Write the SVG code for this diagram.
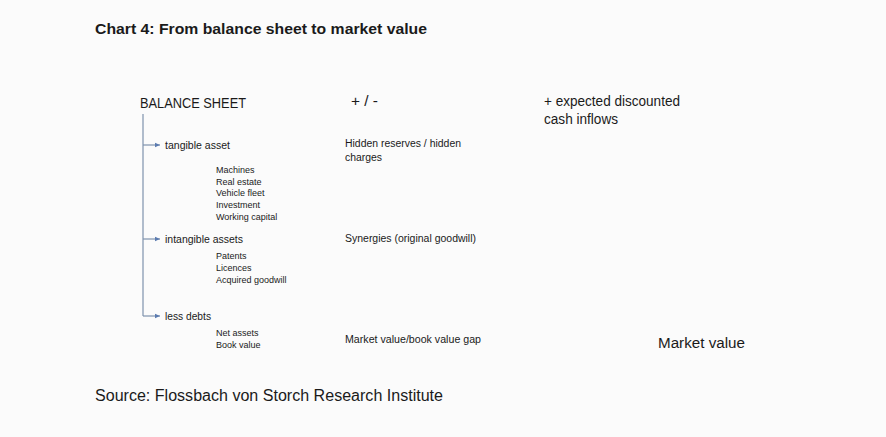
<svg xmlns="http://www.w3.org/2000/svg" width="886" height="437" viewBox="0 0 886 437">
<style>
text{font-family:"Liberation Sans","DejaVu Sans",sans-serif;fill:#1a1a1a}
.t{font-size:15px;font-weight:bold}
.h{font-size:14px}
.m{font-size:11px}
.s{font-size:9px}
.r{font-size:10px}
.src{font-size:16px}
.ln{stroke:#7f93ad;stroke-width:1.2;fill:none}
</style>
<defs>
<marker id="ar" markerWidth="6" markerHeight="6" refX="5" refY="3" orient="auto" markerUnits="userSpaceOnUse">
<path d="M0,0.8 L5,3 L0,5.2 Z" fill="#5b7bb0"/>
</marker>
</defs>
<rect width="886" height="437" fill="#fbfbfb"/>
<text class="t" x="95" y="34" textLength="332" lengthAdjust="spacingAndGlyphs">Chart 4: From balance sheet to market value</text>
<g id="connectors">
<path class="ln" d="M143,114 V316"/>
<path class="ln" d="M143,145 H160" marker-end="url(#ar)"/>
<path class="ln" d="M143,239 H160" marker-end="url(#ar)"/>
<path class="ln" d="M143,316 H160" marker-end="url(#ar)"/>
</g>
<g id="balance-sheet"><text class="h" x="140" y="108" textLength="106" lengthAdjust="spacingAndGlyphs">BALANCE SHEET</text></g>
<g id="plus-minus"><text class="h" x="351" y="106" textLength="27" lengthAdjust="spacingAndGlyphs">+ / -</text></g>
<g id="expected"><text class="h" x="544" y="106" textLength="136" lengthAdjust="spacingAndGlyphs">+ expected discounted</text><text class="h" x="544" y="124" textLength="74" lengthAdjust="spacingAndGlyphs">cash inflows</text></g>
<g id="tangible">
<text class="m" x="165" y="149" textLength="65" lengthAdjust="spacingAndGlyphs">tangible asset</text>
<text class="s" x="216" y="173">Machines</text>
<text class="s" x="216" y="185">Real estate</text>
<text class="s" x="216" y="196">Vehicle fleet</text>
<text class="s" x="216" y="208">Investment</text>
<text class="s" x="216" y="220">Working capital</text>
</g>
<g id="hidden"><text class="r" x="345" y="147" textLength="116" lengthAdjust="spacingAndGlyphs">Hidden reserves / hidden</text><text class="r" x="345" y="161" textLength="37" lengthAdjust="spacingAndGlyphs">charges</text></g>
<g id="intangible">
<text class="m" x="165" y="243" textLength="78" lengthAdjust="spacingAndGlyphs">intangible assets</text>
<text class="s" x="216" y="259">Patents</text>
<text class="s" x="216" y="271">Licences</text>
<text class="s" x="216" y="283">Acquired goodwill</text>
</g>
<g id="synergies"><text class="r" x="345" y="242" textLength="131" lengthAdjust="spacingAndGlyphs">Synergies (original goodwill)</text></g>
<g id="debts">
<text class="m" x="165" y="320" textLength="46" lengthAdjust="spacingAndGlyphs">less debts</text>
<text class="s" x="216" y="336">Net assets</text>
<text class="s" x="216" y="348">Book value</text>
</g>
<g id="gap"><text class="r" x="345" y="343" textLength="136" lengthAdjust="spacingAndGlyphs">Market value/book value gap</text></g>
<g id="market-value"><text class="h" x="658" y="348" textLength="87" lengthAdjust="spacingAndGlyphs">Market value</text></g>
<text class="src" x="95" y="401" textLength="348" lengthAdjust="spacingAndGlyphs">Source: Flossbach von Storch Research Institute</text>
</svg>
